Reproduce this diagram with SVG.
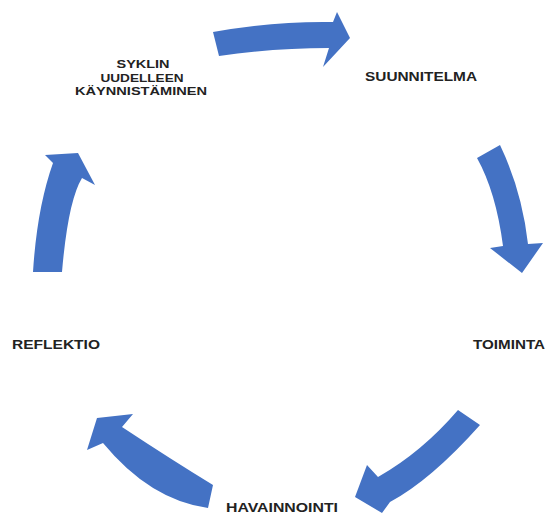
<svg xmlns="http://www.w3.org/2000/svg" width="547" height="515" viewBox="0 0 547 515">
<style>
.arrow{fill:#4472C4;}
.lbl{font-family:"Liberation Sans",Arial,sans-serif;font-size:13px;fill:#222222;font-weight:bold;}
.sm{font-size:11.5px;}
</style>
<rect width="547" height="515" fill="#ffffff"/>
<g id="connectors">
<path id="a1" class="arrow" d="M213,32 Q273,21 333,22 L337,12 L350,38 L323,67 L329,48 Q275,48 219,56 Z"/>
<path id="a2" class="arrow" d="M500,145 Q522,191 528,244 L543,243 L522,273 L490,248 L503,246 Q496,192 477,158 Z"/>
<path id="a3" class="arrow" d="M458,410 Q422,452 378,477 L367,465 L355,497 L382,513 L390,502 Q431,480 480,425 Z"/>
<path id="a4" class="arrow" d="M213,485 Q172,460 122,427 L133,414 L97,418 L87,450 L103,443 Q150,500 208,508 Z"/>
<path id="a5" class="arrow" d="M33,272 Q37,208 53,163 L45,155 L78,153 L95,185 L82,178 Q68,201 62,272 Z"/>
</g>
<g id="node-restart">
<text class="lbl sm" x="143" y="68" text-anchor="middle" textLength="53" lengthAdjust="spacingAndGlyphs">SYKLIN</text>
<text class="lbl sm" x="142" y="82" text-anchor="middle" textLength="83" lengthAdjust="spacingAndGlyphs">UUDELLEEN</text>
<text class="lbl sm" x="141" y="95" text-anchor="middle" textLength="132" lengthAdjust="spacingAndGlyphs">KÄYNNISTÄMINEN</text>
</g>
<g id="node-plan">
<text class="lbl" x="365" y="81" textLength="112" lengthAdjust="spacingAndGlyphs">SUUNNITELMA</text>
</g>
<g id="node-action">
<text class="lbl" x="473" y="349" textLength="72" lengthAdjust="spacingAndGlyphs">TOIMINTA</text>
</g>
<g id="node-observation">
<text class="lbl" x="226" y="512" textLength="112" lengthAdjust="spacingAndGlyphs">HAVAINNOINTI</text>
</g>
<g id="node-reflection">
<text class="lbl" x="12" y="349" textLength="88" lengthAdjust="spacingAndGlyphs">REFLEKTIO</text>
</g>
</svg>
